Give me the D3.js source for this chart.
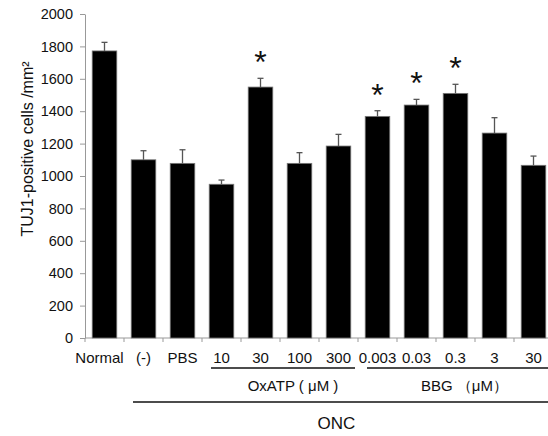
<!DOCTYPE html>
<html>
<head>
<meta charset="utf-8">
<script src="https://cdn.jsdelivr.net/npm/d3@7"></script>
<style>
  body { margin: 0; background: #fff; }
  text { font-family: "Liberation Sans", Arial, sans-serif; }
</style>
</head>
<body>
<div id="graph"></div>
<script>
// bar chart data
var categories = ["Normal", "(-)", "PBS", "10", "30", "100", "300", "0.003", "0.03", "0.3", "3", "30 "];
var labels     = ["Normal", "(-)", "PBS", "10", "30", "100", "300", "0.003", "0.03", "0.3", "3", "30"];
var means      = [1772, 1100, 1078, 949, 1549, 1078, 1185, 1368, 1438, 1510, 1265, 1066];
var errors     = [53, 56, 84, 26, 54, 66, 72, 35, 35, 56, 95, 57];
var significant = [0, 0, 0, 0, 1, 0, 0, 1, 1, 1, 0, 0];
var yTicks = [0, 200, 400, 600, 800, 1000, 1200, 1400, 1600, 1800, 2000];

var width = 548, height = 436;

var vis = d3.select("#graph")
  .append("svg")
  .attr("width", width).attr("height", height);

var x = d3.scaleBand().domain(categories).range([85, 553]).paddingInner(0).paddingOuter(0);
var y = d3.scaleLinear().domain([0, 2000]).range([338, 14]);
var barW = x.bandwidth() * 0.63;
var cx = function(i) { return x(categories[i]) + x.bandwidth() / 2; };

// y axis
var yAxis = vis.append("g")
  .attr("transform", "translate(85,0)")
  .call(d3.axisLeft(y).tickValues(yTicks).tickFormat(d3.format("d")).tickSize(5).tickSizeOuter(0).tickPadding(7));
yAxis.select(".domain").attr("stroke", "#999");
yAxis.selectAll(".tick line").attr("stroke", "#999");
yAxis.selectAll(".tick text").attr("font-size", "14.5px").attr("fill", "#111")
  .attr("font-family", "Liberation Sans, Arial, sans-serif");

// x axis line + tick marks between bars
vis.append("line")
  .attr("x1", 85).attr("x2", width).attr("y1", y(0)).attr("y2", y(0))
  .attr("stroke", "#999");
vis.selectAll("line.xtick")
  .data(categories)
  .enter()
  .append("line")
  .attr("class", "xtick")
  .attr("x1", function(d) { return x(d); }).attr("x2", function(d) { return x(d); })
  .attr("y1", y(0)).attr("y2", y(0) + 4)
  .attr("stroke", "#999");

// bars
vis.selectAll("rect.bar")
  .data(means)
  .enter()
  .append("rect")
  .attr("class", "bar")
  .attr("x", function(d, i) { return cx(i) - barW / 2; })
  .attr("y", function(d) { return y(d); })
  .attr("width", barW)
  .attr("height", function(d) { return y(0) - y(d); })
  .attr("fill", "#000")
  .attr("stroke", "#777")
  .attr("stroke-width", 0.8);

// error bars (upper only)
var eb = vis.selectAll("g.err")
  .data(means)
  .enter()
  .append("g")
  .attr("class", "err")
  .attr("stroke", "#555")
  .attr("stroke-width", 1.3);
eb.append("line")
  .attr("x1", function(d, i) { return cx(i); })
  .attr("x2", function(d, i) { return cx(i); })
  .attr("y1", function(d) { return y(d); })
  .attr("y2", function(d, i) { return y(d + errors[i]); });
eb.append("line")
  .attr("x1", function(d, i) { return cx(i) - 3; })
  .attr("x2", function(d, i) { return cx(i) + 3; })
  .attr("y1", function(d, i) { return y(d + errors[i]); })
  .attr("y2", function(d, i) { return y(d + errors[i]); });

// asterisks
vis.selectAll("text.star")
  .data(means.map(function(d, i) { return i; }).filter(function(i) { return significant[i]; }))
  .enter()
  .append("text")
  .attr("class", "star")
  .attr("x", function(i) { return cx(i); })
  .attr("y", function(i) { return y(means[i] + errors[i]) - 5; })
  .attr("text-anchor", "middle")
  .attr("font-size", "32px")
  .attr("fill", "#111")
  .text("*");

// category labels
vis.selectAll("text.xlab")
  .data(labels)
  .enter()
  .append("text")
  .attr("class", "xlab")
  .attr("x", function(d, i) { return cx(i) - (i === 0 ? 5 : 0); })
  .attr("y", 363)
  .attr("text-anchor", "middle")
  .attr("font-size", "15px")
  .attr("fill", "#111")
  .text(function(d) { return d; });

// group brackets
var groups = [
  { name: "OxATP ( μM )", from: "10", to: "300", yLine: 368, yText: 391, dx: 10 },
  { name: "BBG （μM）", from: "0.003", to: "30 ", yLine: 368, yText: 391, dx: 6 },
  { name: "ONC", from: "(-)", to: "30 ", yLine: 402, yText: 429, dx: -5 }
];
groups.forEach(function(g) {
  var x1 = x(g.from) + 9, x2 = x(g.to) + x.bandwidth() - 3;
  vis.append("line")
    .attr("x1", x1).attr("x2", x2).attr("y1", g.yLine).attr("y2", g.yLine)
    .attr("stroke", "#111").attr("stroke-width", 1.5);
  vis.append("text")
    .attr("x", (x1 + x2) / 2 + g.dx).attr("y", g.yText)
    .attr("text-anchor", "middle")
    .attr("font-size", g.name === "ONC" ? "17px" : "15px")
    .attr("fill", "#111")
    .text(g.name);
});

// y axis title
vis.append("text")
  .attr("transform", "translate(33,149) rotate(-90)")
  .attr("text-anchor", "middle")
  .attr("font-size", "16px")
  .attr("fill", "#111")
  .text("TUJ1-positive cells /mm²");
</script>
</body>
</html>
